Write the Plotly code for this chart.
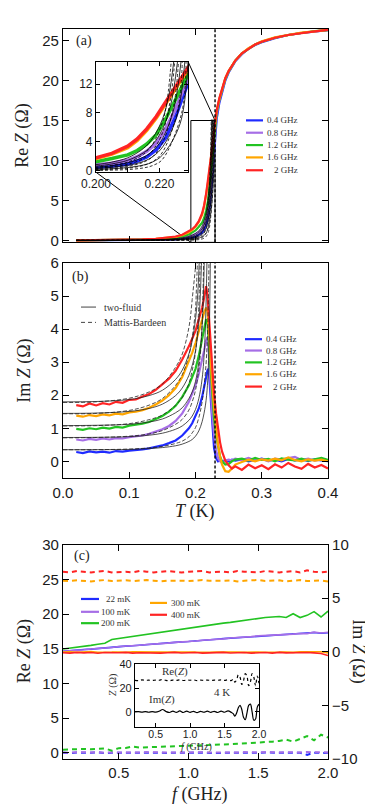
import plotly.graph_objects as go

# ---------------- data: panels (a) and (b), temperature sweeps ----------------
freqs = ["0.4 GHz", "0.8 GHz", "1.2 GHz", "1.6 GHz", "2 GHz"]
colors = ["#1f2bff", "#a66ee6", "#22c322", "#ffa600", "#ff2424"]
Tc = 0.2295

T_re = [0.02, 0.05, 0.08, 0.10, 0.12, 0.14, 0.16, 0.17, 0.18, 0.19, 0.195,
        0.20, 0.205, 0.21, 0.213, 0.216, 0.219, 0.222, 0.225, 0.229,
        0.232, 0.236, 0.24, 0.245, 0.25, 0.255, 0.26, 0.27, 0.28, 0.29, 0.30,
        0.32, 0.34, 0.36, 0.38, 0.40]
re_04 = [0.00, 0.00, 0.01, 0.02, 0.03, 0.05, 0.09, 0.12, 0.18, 0.28, 0.36,
         0.45, 0.65, 0.95, 1.35, 1.9, 2.9, 4.6, 7.4, 12.2,
         15.2, 17.2, 18.6, 20.0, 21.0, 21.8, 22.4, 23.3, 24.0, 24.45, 24.8,
         25.3, 25.7, 25.95, 26.15, 26.3]
re_08 = [0.00, 0.01, 0.02, 0.03, 0.05, 0.08, 0.14, 0.20, 0.30, 0.48, 0.62,
         0.8, 1.05, 1.45, 1.95, 2.7, 3.8, 5.8, 8.5, 12.8,
         15.7, 17.5, 18.8, 20.15, 21.1, 21.85, 22.45, 23.35, 24.0, 24.5, 24.85,
         25.35, 25.7, 25.95, 26.15, 26.35]
re_12 = [0.00, 0.01, 0.03, 0.05, 0.08, 0.13, 0.23, 0.32, 0.48, 0.75, 0.97,
         1.25, 1.7, 2.2, 2.8, 3.7, 5.0, 7.2, 9.8, 13.3,
         16.0, 17.6, 18.9, 20.2, 21.15, 21.9, 22.5, 23.4, 24.0, 24.5, 24.85,
         25.35, 25.7, 25.95, 26.2, 26.3]
re_16 = [0.00, 0.02, 0.04, 0.07, 0.11, 0.18, 0.32, 0.44, 0.65, 1.02, 1.32,
         1.7, 2.3, 3.2, 4.2, 5.6, 7.3, 9.4, 11.3, 14.0,
         16.2, 17.7, 19.0, 20.3, 21.2, 21.9, 22.5, 23.4, 24.05, 24.5, 24.9,
         25.4, 25.7, 26.0, 26.15, 26.35]
re_20 = [0.00, 0.02, 0.05, 0.08, 0.12, 0.20, 0.35, 0.48, 0.70, 1.10, 1.40,
         1.8, 2.4, 3.4, 4.4, 5.8, 7.5, 9.6, 11.5, 14.4,
         16.3, 17.8, 19.0, 20.3, 21.2, 21.9, 22.5, 23.4, 24.0, 24.5, 24.85,
         25.35, 25.7, 25.95, 26.15, 26.35]
re_sets = [re_04, re_08, re_12, re_16, re_20]

# fits to Re Z (two-fluid solid, Mattis-Bardeen dashed)
T_fit_re = [0.02, 0.15, 0.18, 0.19, 0.20, 0.205, 0.21, 0.215, 0.218, 0.221]
fit_re_tf = [
    ([0.223, 0.2245], [0, 0.12, 0.32, 0.5, 0.85, 1.2, 1.8, 3.1, 4.6, 7.2, 10.5, 15.1]),
    ([0.2235, 0.2257], [0, 0.1, 0.25, 0.4, 0.65, 0.95, 1.45, 2.5, 3.7, 5.8, 9.0, 15.1]),
    ([0.2245, 0.2268], [0, 0.07, 0.18, 0.3, 0.48, 0.7, 1.1, 1.9, 2.8, 4.5, 8.5, 15.1]),
    ([0.2255, 0.228], [0, 0.05, 0.12, 0.2, 0.32, 0.48, 0.75, 1.3, 2.0, 3.3, 7.5, 15.1]),
    ([0.2265, 0.229], [0, 0.03, 0.07, 0.12, 0.18, 0.28, 0.45, 0.8, 1.25, 2.2, 6.5, 15.1]),
]
fit_re_mb = [
    ([0.2225, 0.2237], [0, 0.05, 0.18, 0.3, 0.5, 0.75, 1.2, 2.3, 3.8, 6.8, 10.0, 15.1]),
    ([0.2235, 0.2248], [0, 0.03, 0.12, 0.2, 0.35, 0.55, 0.9, 1.7, 2.9, 5.3, 10.0, 15.1]),
    ([0.2245, 0.226], [0, 0.02, 0.07, 0.12, 0.22, 0.35, 0.6, 1.2, 2.0, 3.9, 9.0, 15.1]),
    ([0.2258, 0.2272], [0, 0.01, 0.03, 0.06, 0.12, 0.2, 0.35, 0.75, 1.3, 2.6, 8.5, 15.1]),
    ([0.227, 0.2284], [0, 0.0, 0.01, 0.02, 0.05, 0.09, 0.17, 0.4, 0.75, 1.6, 8.0, 15.1]),
]

T_im = [0.02, 0.03, 0.04, 0.05, 0.06, 0.07, 0.08, 0.09, 0.10, 0.11, 0.12, 0.13,
        0.14, 0.15, 0.16, 0.17, 0.18,
        0.19, 0.195, 0.20, 0.205, 0.21, 0.213, 0.216, 0.218, 0.22, 0.222, 0.225,
        0.228, 0.231, 0.234, 0.237, 0.24, 0.245, 0.25, 0.255, 0.26,
        0.27, 0.28, 0.29, 0.30, 0.31, 0.32, 0.33, 0.34, 0.35, 0.36, 0.37, 0.38,
        0.39, 0.40]
im_04 = [0.28, 0.25, 0.30, 0.27, 0.29, 0.26, 0.31, 0.29, 0.32, 0.33, 0.36, 0.39,
         0.43, 0.48, 0.55, 0.63, 0.78,
         1.0, 1.15, 1.35, 1.6, 1.95, 2.25, 2.55, 2.75, 2.8, 2.2, 1.1,
         0.4, 0.1, 0.0, 0.03, -0.02, 0.04, 0.0, 0.05, 0.02,
         0.06, 0.0, 0.04, 0.08, 0.02, 0.05, 0.0, 0.07, 0.03, 0.05, 0.01, 0.06,
         0.03, 0.0]
im_08 = [0.66, 0.63, 0.68, 0.65, 0.69, 0.66, 0.70, 0.69, 0.73, 0.75, 0.78, 0.83,
         0.89, 0.97, 1.07, 1.22, 1.45,
         1.8, 2.05, 2.3, 2.65, 3.05, 3.35, 3.65, 3.75, 3.3, 2.5, 1.5,
         0.8, 0.35, 0.1, 0.0, -0.05, 0.02, 0.05, 0.03, 0.08,
         0.04, 0.1, 0.03, 0.07, 0.0, 0.08, 0.05, 0.1, 0.13, 0.04, 0.08, 0.02,
         0.06, 0.03]
im_12 = [0.98, 0.95, 1.00, 0.97, 1.02, 0.99, 1.04, 1.02, 1.08, 1.10, 1.14, 1.19,
         1.27, 1.37, 1.50, 1.68, 1.95,
         2.3, 2.55, 2.8, 3.2, 3.7, 4.05, 4.3, 4.2, 3.6, 2.9, 2.0,
         1.3, 0.8, 0.4, 0.15, 0.0, -0.1, -0.08, 0.0, 0.05,
         0.08, 0.02, 0.1, 0.04, 0.07, 0.0, 0.09, 0.05, 0.03, 0.08, 0.02, 0.06,
         0.1, 0.04]
im_16 = [1.38, 1.35, 1.40, 1.37, 1.42, 1.39, 1.44, 1.42, 1.48, 1.50, 1.55, 1.62,
         1.72, 1.84, 2.00, 2.22, 2.55,
         3.0, 3.28, 3.58, 3.95, 4.3, 4.5, 4.65, 4.55, 4.0, 3.3, 2.4,
         1.6, 1.0, 0.5, 0.15, -0.1, -0.3, -0.32, -0.22, -0.1,
         -0.02, 0.05, 0.0, 0.06, 0.02, 0.08, 0.03, 0.12, 0.04, 0.0, 0.06, 0.02,
         0.05, 0.0]
im_20 = [1.70, 1.66, 1.75, 1.69, 1.76, 1.72, 1.80, 1.77, 1.86, 1.87, 1.96, 2.04,
         2.16, 2.32, 2.50, 2.74, 3.08,
         3.48, 3.74, 3.95, 4.30, 4.65, 4.95, 5.30, 5.05, 4.45, 3.75, 2.85,
         2.05, 1.45, 0.95, 0.58, 0.30, 0.02, -0.12, -0.22, -0.15,
         -0.26, -0.10, -0.21, -0.12, -0.24, -0.09, -0.19, -0.05, -0.16, -0.23,
         -0.08, -0.19, -0.11, -0.22]
im_sets = [im_04, im_08, im_12, im_16, im_20]

# fits to Im Z
T_fit_im = [0.0, 0.05, 0.10, 0.13, 0.15, 0.17, 0.18, 0.19, 0.195, 0.20]
fit_im_tf = [
    ([0.205, 0.21, 0.215, 0.218, 0.2205, 0.2225],
     [0.35, 0.351, 0.36, 0.385, 0.415, 0.47, 0.52, 0.6, 0.66, 0.76, 0.92, 1.2, 1.7, 2.3, 3.6, 6.3]),
    ([0.205, 0.21, 0.214, 0.2175],
     [0.72, 0.725, 0.745, 0.79, 0.85, 0.97, 1.07, 1.24, 1.37, 1.57, 1.9, 2.5, 3.6, 6.3]),
    ([0.205, 0.21, 0.2135],
     [1.08, 1.09, 1.12, 1.19, 1.28, 1.47, 1.62, 1.9, 2.1, 2.42, 3.0, 4.1, 6.3]),
    ([0.205, 0.2095],
     [1.45, 1.46, 1.51, 1.6, 1.73, 1.99, 2.22, 2.6, 2.9, 3.35, 4.2, 6.3]),
    ([0.2035, 0.206],
     [1.80, 1.81, 1.87, 1.99, 2.15, 2.48, 2.76, 3.25, 3.65, 4.3, 5.1, 6.3]),
]
fit_im_mb = [
    ([0.205, 0.21, 0.215, 0.218, 0.2205],
     [0.35, 0.352, 0.37, 0.405, 0.45, 0.54, 0.61, 0.74, 0.86, 1.02, 1.32, 1.8, 2.7, 3.8, 6.3]),
    ([0.205, 0.209, 0.2125],
     [0.71, 0.72, 0.76, 0.83, 0.93, 1.12, 1.27, 1.55, 1.8, 2.15, 2.8, 3.7, 6.3]),
    ([0.204, 0.2075],
     [1.07, 1.08, 1.14, 1.26, 1.40, 1.70, 1.93, 2.35, 2.75, 3.3, 4.3, 6.3]),
    ([0.2015, 0.2035],
     [1.44, 1.45, 1.54, 1.70, 1.90, 2.30, 2.62, 3.2, 3.75, 4.6, 5.3, 6.3]),
    ([0.1985],
     [1.78, 1.80, 1.91, 2.10, 2.34, 2.85, 3.25, 4.05, 4.9, 6.3, 6.3]),
]

# ---------------- data: panel (c), frequency sweeps ----------------
temps = ["22 mK", "100 mK", "200 mK", "300 mK", "400 mK"]
f_c = [0.10, 0.15, 0.20, 0.25, 0.30, 0.35, 0.40, 0.45, 0.50, 0.55, 0.60, 0.65,
       0.70, 0.75, 0.80, 0.85, 0.90, 0.95, 1.00, 1.05, 1.10, 1.15, 1.20, 1.25,
       1.30, 1.35, 1.40, 1.45, 1.50, 1.55, 1.60, 1.65, 1.70, 1.75, 1.80, 1.85,
       1.90, 1.95, 2.00]
reZ_22 = [0.00, -0.05, 0.02, -0.03, 0.0, 0.05, -0.05, 0.0, -0.02, 0.03, -0.04, 0.0,
          0.02, -0.03, 0.01, -0.02, 0.0, 0.03, -0.05, 0.0, 0.02, -0.03, 0.0, 0.04,
          -0.02, 0.0, 0.02, -0.04, 0.0, 0.03, -0.02, 0.0, 0.02, -0.03, 0.0, -0.3,
          0.02, -0.03, 0.0]
reZ_100 = [0.05, 0.0, 0.08, 0.02, 0.05, 0.1, 0.0, 0.05, 0.03, 0.08, 0.0, 0.05,
           0.07, 0.02, 0.06, 0.03, 0.05, 0.08, 0.0, 0.05, 0.07, 0.02, 0.05, 0.09,
           0.03, 0.05, 0.07, 0.01, 0.05, 0.08, 0.03, 0.05, 0.07, 0.02, 0.05, 0.1,
           0.03, 0.06, 0.05]
reZ_200 = [0.45, 0.5, 0.5, 0.55, 0.5, 0.6, 0.62, 0.3, 0.66, 0.7, 0.9, 0.75,
           0.8, 0.84, 0.88, 0.9, 0.95, 0.98, 1.0, 1.05, 1.08, 1.1, 1.15, 1.2,
           1.24, 1.3, 1.34, 1.4, 1.5, 1.55, 1.6, 1.7, 1.9, 1.6, 2.0, 2.4,
           1.8, 2.6, 2.2]
reZ_300 = [24.8, 24.75, 24.85, 24.8, 24.7, 24.8, 24.9, 24.75, 24.8, 24.85, 24.75, 24.8,
           24.9, 24.8, 24.7, 24.8, 24.85, 24.8, 24.75, 24.8, 24.9, 24.8, 24.75, 24.8,
           24.85, 24.7, 24.8, 24.8, 24.9, 24.75, 24.8, 24.85, 24.7, 24.8, 24.9, 24.75,
           24.8, 24.85, 24.7]
reZ_400 = [26.1, 26.0, 26.2, 26.1, 26.0, 26.1, 26.2, 26.0, 26.1, 26.1, 26.0, 26.2,
           26.1, 26.0, 26.1, 26.2, 26.1, 26.0, 26.1, 26.1, 26.2, 26.0, 26.1, 26.1,
           26.0, 26.2, 26.1, 26.1, 26.0, 26.2, 26.1, 26.0, 26.1, 26.2, 26.0, 26.3,
           26.1, 26.0, 26.1]
imZ_22 = [0.05, 0.12, 0.15, 0.22, 0.25, 0.32, 0.35, 0.42, 0.47, 0.53, 0.57, 0.63,
          0.66, 0.73, 0.76, 0.83, 0.86, 0.93, 0.96, 1.03, 1.06, 1.13, 1.17, 1.23,
          1.27, 1.34, 1.37, 1.44, 1.47, 1.53, 1.55, 1.61, 1.62, 1.67, 1.69, 1.74,
          1.8, 1.73, 1.78]
imZ_100 = [0.06, 0.09, 0.16, 0.19, 0.26, 0.29, 0.36, 0.4, 0.49, 0.51, 0.59, 0.61,
           0.68, 0.71, 0.78, 0.81, 0.88, 0.91, 0.98, 1.01, 1.08, 1.11, 1.19, 1.21,
           1.29, 1.32, 1.39, 1.42, 1.49, 1.51, 1.57, 1.59, 1.64, 1.65, 1.71, 1.7,
           1.84, 1.76, 1.82]
imZ_200 = [0.26, 0.33, 0.42, 0.5, 0.6, 0.7, 0.8, 1.15, 1.25, 1.33, 1.42, 1.55,
           1.62, 1.72, 1.82, 1.9, 2.0, 2.1, 2.25, 2.32, 2.4, 2.5, 2.6, 2.68,
           2.75, 2.85, 2.95, 3.05, 3.15, 3.2, 3.25, 3.3, 3.2, 3.55, 3.2, 3.4,
           3.75, 3.25, 3.8]
imZ_300 = [-0.03, 0.0, -0.05, -0.02, 0.02, -0.04, 0.0, -0.03, -0.01, -0.05, 0.0, -0.02,
           -0.04, 0.01, -0.03, -0.02, 0.0, -0.05, -0.01, -0.03, 0.0, -0.04, -0.02, 0.0,
           -0.03, -0.01, -0.05, 0.0, -0.02, -0.04, 0.0, -0.03, -0.01, -0.05, 0.0, -0.02,
           -0.04, 0.0, -0.1]
imZ_400 = [-0.08, -0.12, -0.05, -0.1, -0.07, -0.13, -0.06, -0.1, -0.09, -0.05, -0.12, -0.08,
           -0.1, -0.06, -0.12, -0.08, -0.05, -0.11, -0.09, -0.06, -0.12, -0.08, -0.1, -0.05,
           -0.11, -0.08, -0.06, -0.12, -0.09, -0.07, -0.12, -0.05, -0.1, -0.08, -0.13, -0.06,
           -0.1, -0.15, -0.35]
reZ_sets = [reZ_22, reZ_100, reZ_200, reZ_300, reZ_400]
imZ_sets = [imZ_22, imZ_100, imZ_200, imZ_300, imZ_400]

# inset (c): 4 K
f_4K = [0.20, 0.25, 0.30, 0.35, 0.40, 0.45, 0.50, 0.55, 0.60, 0.65, 0.70, 0.75,
        0.80, 0.85, 0.90, 0.95, 1.00, 1.05, 1.10, 1.15, 1.20, 1.25, 1.30, 1.35,
        1.40, 1.45, 1.50, 1.55, 1.60, 1.625, 1.65, 1.675, 1.70, 1.725, 1.75,
        1.775, 1.80, 1.825, 1.85, 1.875, 1.90, 1.925, 1.95, 1.975, 2.00]
re_4K = [26.5, 26.2, 26.8, 26.4, 26.6, 26.3, 26.7, 26.5, 27.2, 26.4, 26.1, 26.7,
         26.4, 26.9, 26.3, 26.6, 26.5, 26.8, 26.2, 26.6, 26.4, 26.7, 26.3, 26.6,
         26.5, 26.8, 26.4, 26.9, 26.3, 27.5, 25.0, 27.0, 31.0, 29.0, 23.0,
         26.0, 32.0, 30.0, 22.0, 25.0, 32.0, 29.0, 22.0, 30.0, 24.0]
im_4K = [0.0, 0.3, -0.2, 0.2, -0.3, 0.3, -0.2, 0.5, 2.0, 0.3, -0.5, 0.6,
         -0.4, 0.8, -0.5, 0.6, -0.4, 0.5, -0.6, 0.5, -0.3, 0.6, -0.4, 0.5,
         -0.5, 0.6, -0.3, 0.8, -0.5, -1.5, -3.5, -1.0, 3.5, 5.5, 2.0,
         -4.5, -6.5, -1.0, 5.5, 6.5, 0.0, -7.0, -6.0, 4.0, 6.5]

# ---------------- layout helpers (pixel -> paper) ----------------
W, H = 373, 804
ML, MR, MT, MB = 55, 53, 12, 53


def px(x):
    return (x - ML) / (W - ML - MR)


def py(y):
    return (H - MB - y) / (H - MT - MB)


SERIF = "Liberation Serif"
SANS = "Liberation Sans"
ra = [-0.25, 26.45]
ya = [py(228), py(12)]
yb = [py(467), py(249)]
yc = [py(751), py(534)]
ins_a_x, ins_a_y = [px(88), px(180)], [py(157), py(45)]
ins_c_x, ins_c_y = [px(127), px(251)], [py(719), py(655)]

fig = go.Figure()


def line_tr(x, y, xa, ya_, color, width, dash="solid", shape="linear"):
    fig.add_trace(go.Scatter(x=x, y=y, mode="lines", xaxis=xa, yaxis=ya_,
                             line=dict(color=color, width=width, dash=dash, shape=shape),
                             showlegend=False, hoverinfo="skip"))


# (a) main + inset
for c, y in zip(colors, re_sets):
    line_tr(T_re, y, "x", "y", c, 2.2)
for (tail, v) in fit_re_tf:
    line_tr(T_fit_re + tail, v, "x", "y", "black", 0.7, shape="spline")
for (tail, v) in fit_re_mb:
    line_tr(T_fit_re + tail, v, "x", "y", "black", 0.7, dash="3px,2px", shape="spline")
for c, y in zip(colors, re_sets):
    line_tr(T_re, y, "x5", "y5", c, 3.5)
for (tail, v) in fit_re_tf:
    line_tr(T_fit_re + tail, v, "x5", "y5", "black", 0.8, shape="spline")
for (tail, v) in fit_re_mb:
    line_tr(T_fit_re + tail, v, "x5", "y5", "black", 0.8, dash="3px,2px", shape="spline")

# (b)
for c, y in zip(colors, im_sets):
    line_tr(T_im, y, "x2", "y2", c, 2.2)
for (tail, v) in fit_im_tf:
    line_tr(T_fit_im + tail, v, "x2", "y2", "#222", 0.8, shape="spline")
for (tail, v) in fit_im_mb:
    line_tr(T_fit_im + tail, v, "x2", "y2", "#222", 0.8, dash="4px,2px", shape="spline")

# (c)
for c, y in zip(colors, reZ_sets):
    line_tr(f_c, y, "x3", "y3", c, 2, dash="5px,4px")
for c, y in zip(colors, imZ_sets):
    line_tr(f_c, y, "x3", "y4", c, 1.6)
line_tr(f_4K, re_4K, "x6", "y6", "black", 1.2, dash="dot", shape="spline")
line_tr(f_4K, im_4K, "x6", "y6", "black", 1.2, shape="spline")

ax = dict(showline=True, linecolor="black", linewidth=1.2, ticks="inside", ticklen=6,
          tickcolor="black", tickwidth=1.1, showgrid=False, zeroline=False,
          tickfont=dict(family=SANS, size=15, color="#1a1a1a"))

fig.update_layout(
    width=W, height=H, margin=dict(l=ML, r=MR, t=MT, b=MB),
    paper_bgcolor="white", plot_bgcolor="rgba(0,0,0,0)", showlegend=False,
    xaxis=dict(ax, domain=[0, 1], anchor="y", range=[0, 0.4], mirror="ticks",
               tickvals=[0.1, 0.2, 0.3], showticklabels=False),
    yaxis=dict(ax, domain=ya, anchor="x", range=ra, mirror="ticks",
               tickvals=[0, 5, 10, 15, 20, 25]),
    xaxis2=dict(ax, domain=[0, 1], anchor="y2", range=[0, 0.4], mirror="ticks",
                tickvals=[0, 0.1, 0.2, 0.3, 0.4], tickformat=".1f"),
    yaxis2=dict(ax, domain=yb, anchor="x2", range=[-0.52, 6.0], mirror="ticks",
                tickvals=[0, 1, 2, 3, 4, 5, 6]),
    xaxis3=dict(ax, domain=[0, 1], anchor="y3", range=[0.1, 2.0], mirror="ticks",
                tickvals=[0.5, 1.0, 1.5, 2.0], tickformat=".1f"),
    yaxis3=dict(ax, domain=yc, anchor="x3", range=[-0.9, 30],
                tickvals=[0, 5, 10, 15, 20, 25, 30]),
    yaxis4=dict(ax, domain=yc, anchor="x3", overlaying="y3", side="right",
                range=[-10, 10], tickvals=[-10, -5, 0, 5, 10]),
    xaxis5=dict(ax, domain=ins_a_x, anchor="y5", range=[0.2, 0.229], mirror="ticks",
                ticklen=4, tickvals=[0.2, 0.21, 0.22], ticktext=["0.200", "", "0.220"],
                tickfont=dict(family=SANS, size=12, color="#1a1a1a")),
    yaxis5=dict(ax, domain=ins_a_y, anchor="x5", range=[-0.2, 15.1], mirror="ticks",
                ticklen=4, tickvals=[0, 4, 8, 12],
                tickfont=dict(family=SANS, size=12, color="#1a1a1a")),
    xaxis6=dict(ax, domain=ins_c_x, anchor="y6", range=[0.2, 2.0], mirror="ticks",
                ticklen=4, tickvals=[0.5, 1.0, 1.5, 2.0], tickformat=".1f",
                ticklabelstandoff=-3,
                tickfont=dict(family=SANS, size=10.5, color="#1a1a1a")),
    yaxis6=dict(ax, domain=ins_c_y, anchor="x6", range=[-13, 40], mirror="ticks",
                ticklen=4, tickvals=[0, 20, 40],
                tickfont=dict(family=SANS, size=11, color="#1a1a1a")),
)


# panel (a) data coords of paper points, for the zoom connectors
def a_data(xp, yp):
    return xp * 0.4, ra[0] + (yp - ya[0]) / (ya[1] - ya[0]) * (ra[1] - ra[0])


shapes = []
bl = a_data(ins_a_x[0], ins_a_y[0])
tr = a_data(ins_a_x[1], ins_a_y[1])
shapes.append(dict(type="rect", xref="x", yref="y", x0=0.193, x1=Tc, y0=ra[0], y1=15,
                   line=dict(color="black", width=1), layer="below"))
shapes.append(dict(type="line", xref="x", yref="y", x0=bl[0], y0=bl[1], x1=0.193, y1=ra[0],
                   line=dict(color="black", width=1), layer="below"))
shapes.append(dict(type="line", xref="x", yref="y", x0=tr[0], y0=tr[1], x1=Tc, y1=15,
                   line=dict(color="black", width=1), layer="below"))
for xa, yd in [("x", "y domain"), ("x2", "y2 domain")]:
    shapes.append(dict(type="line", xref=xa, yref=yd, x0=Tc, x1=Tc, y0=0, y1=1,
                       line=dict(color="black", width=1.4, dash="3px,2px")))

ann = []


def text(x, y, s, size=9, anchor="center", angle=0, family=SERIF, color="#333"):
    ann.append(dict(x=px(x), y=py(y), xref="paper", yref="paper", text=s, showarrow=False,
                    xanchor=anchor, yanchor="middle", textangle=angle,
                    font=dict(family=family, size=size, color=color)))


def legline(x0, x1, y, color, dash="solid", width=2.2):
    shapes.append(dict(type="line", xref="paper", yref="paper", x0=px(x0), x1=px(x1),
                       y0=py(y), y1=py(y), line=dict(color=color, width=width, dash=dash)))


# legends (a), (b)
for i, (c, name) in enumerate(zip(colors, freqs)):
    ya_row = [104.5, 117, 129.5, 142, 155][i]
    legline(238, 255, ya_row, c)
    text(292, ya_row, name, anchor="right")
    yb_row = [326, 337.5, 349.5, 361.5, 374][i]
    legline(237, 254, yb_row, c)
    text(291, yb_row, name, anchor="right")
legline(73, 88, 293.5, "#444", width=1)
text(94, 293.5, "two-fluid", size=10, anchor="left")
legline(73, 88, 309, "#444", dash="4px,3px", width=1)
text(94, 309, "Mattis-Bardeen", size=10, anchor="left")

# legend (c)
for i, (c, name) in enumerate(zip(colors, temps)):
    if i < 3:
        yr = [589, 602, 613.5][i]
        legline(73, 91, yr, c)
        text(125, yr, name, anchor="right")
    else:
        yr = [593, 605][i - 3]
        legline(142, 159, yr, c)
        text(195, yr, name, anchor="right")

# titles and panel labels
text(15, 120, "Re <i>Z</i> (Ω)", size=18, angle=-90, color="#222")
text(17, 358, "Im <i>Z</i> (Ω)", size=18, angle=-90, color="#222")
text(187, 500, "<i>T</i> (K)", size=18, color="#222")
text(16, 642, "Re <i>Z</i> (Ω)", size=18, angle=-90, color="#222")
text(351, 642, "Im <i>Z</i> (Ω)", size=18, angle=90, color="#222")
text(192, 787, "<i>f</i> (GHz)", size=18, color="#222")
text(76, 24, "(a)", size=14, color="#222")
text(72.5, 263, "(b)", size=14, color="#222")
text(73.5, 545, "(c)", size=14, color="#222")
text(167, 662, "Re(<i>Z</i>)", size=11)
text(154, 691, "Im(<i>Z</i>)", size=11)
text(214, 683, "4 K", size=11)
text(105, 676, "<i>Z</i> (Ω)", size=10, angle=-90)
text(188, 739, "<i>f</i> (GHz)", size=10)

fig.update_layout(shapes=shapes, annotations=ann)
fig.write_html("out.html")
